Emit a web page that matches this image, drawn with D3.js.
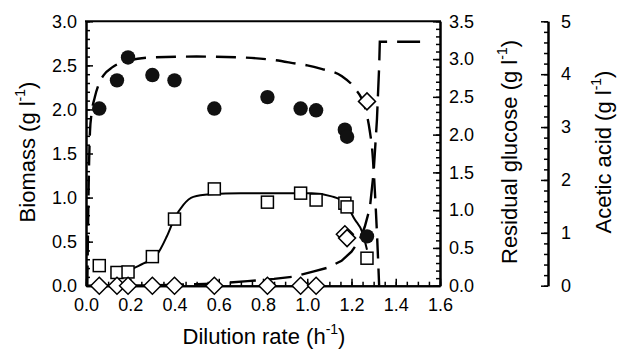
<!DOCTYPE html>
<html><head><meta charset="utf-8">
<script src="https://cdn.jsdelivr.net/npm/d3@7"></script>
<style>body{margin:0;background:#fff}svg{display:block}</style>
</head><body>
<svg id="c" width="618" height="350"></svg>
<script>
// ---- data ----
const dilution = [0.06, 0.14, 0.19, 0.30, 0.40, 0.58, 0.82, 0.97, 1.04, 1.17, 1.18, 1.27];
const biomass = [2.01, 2.33, 2.59, 2.39, 2.33, 2.01, 2.14, 2.01, 1.99, 1.77, 1.69, 0.56];
const aceticAcid = [0.38, 0.25, 0.26, 0.55, 1.26, 1.83, 1.58, 1.75, 1.62, 1.56, 1.49, 0.52];
const residualGlucose = [0, 0, 0, 0, 0, 0, 0, 0, 0, 0.68, 0.63, 2.44];
const biomassModel = [[0.006,0],[0.01,0.8],[0.014,1.4],[0.018,1.75],[0.025,1.95],[0.04,2.14],[0.06,2.3],[0.08,2.39],[0.12,2.48],[0.2,2.56],[0.3,2.59],[0.5,2.6],[0.7,2.59],[0.85,2.56],[0.95,2.52],[1.0,2.5],[1.064,2.46],[1.155,2.38],[1.215,2.24],[1.26,2.03],[1.283,1.75],[1.295,1.5],[1.305,1.1],[1.315,0.6],[1.325,0]];
const glucoseModel = [[0,0],[0.3,0.005],[0.5,0.02],[0.6,0.03],[0.73,0.06],[0.85,0.09],[0.94,0.12],[1.03,0.19],[1.094,0.24],[1.155,0.33],[1.2,0.45],[1.236,0.6],[1.26,0.78],[1.283,1.03],[1.30,1.5],[1.315,2.2],[1.325,2.9],[1.328,3.23],[1.51,3.23]];
const aceticModel = [[0.19,0.27],[0.21,0.32],[0.26,0.42],[0.32,0.58],[0.365,0.93],[0.40,1.27],[0.44,1.53],[0.485,1.68],[0.56,1.73],[0.7,1.75],[0.9,1.75],[1.02,1.75],[1.11,1.69],[1.17,1.57],[1.215,1.25],[1.25,1.0],[1.27,0.68]];
const xTicks = [0,0.2,0.4,0.6,0.8,1.0,1.2,1.4,1.6];
const biomassTicks = [0,0.5,1.0,1.5,2.0,2.5,3.0];
const glucoseTicks = [0,0.5,1.0,1.5,2.0,2.5,3.0,3.5];
const aceticTicks = [0,1,2,3,4,5];

// ---- layout ----
const L = 86, R = 440, T = 21.3, B = 285.7, AX = 548;
const FONT = "'Liberation Sans', Arial, Helvetica, sans-serif";
const svg = d3.select("#c");
const x = d3.scaleLinear([0,1.6],[L,R]);
const yB = d3.scaleLinear([0,3],[B,T]);
const yG = d3.scaleLinear([0,3.5],[B,T]);
const yA = d3.scaleLinear([0,5],[B,T]);
const rng = (a,b,s) => d3.range(Math.round((b-a)/s)+1).map(i => +(a+i*s).toFixed(4));

function styleAxis(g){
  g.selectAll("path.domain").attr("stroke","#000").attr("stroke-width",2);
  g.selectAll(".tick line").attr("stroke","#000").attr("stroke-width",1.5);
  g.selectAll("text").attr("font-family",FONT).attr("font-size",18).attr("fill","#000");
}
// minor ticks first
svg.append("g").attr("transform",`translate(0,${B})`)
  .call(d3.axisBottom(x).tickValues(rng(0,1.6,0.05)).tickSize(-4).tickSizeOuter(0).tickFormat(""))
  .call(styleAxis);
svg.append("g").attr("transform",`translate(${L},0)`)
  .call(d3.axisLeft(yB).tickValues(rng(0,3,0.1)).tickSize(-4).tickSizeOuter(0).tickFormat(""))
  .call(styleAxis);
svg.append("g").attr("transform",`translate(${R},0)`)
  .call(d3.axisRight(yG).tickValues(rng(0,3.5,0.1)).tickSize(-4).tickSizeOuter(0).tickFormat(""))
  .call(styleAxis);
svg.append("g").attr("transform",`translate(${AX},0)`)
  .call(d3.axisRight(yA).tickValues(rng(0,5,0.2)).tickSize(-4).tickSizeOuter(0).tickFormat(""))
  .call(styleAxis);
// major
svg.append("g").attr("transform",`translate(0,${B})`)
  .call(d3.axisBottom(x).tickValues(xTicks).tickSize(-7).tickSizeOuter(0).tickPadding(13).tickFormat(d3.format(".1f")))
  .call(styleAxis);
svg.append("g").attr("transform",`translate(${L},0)`)
  .call(d3.axisLeft(yB).tickValues(biomassTicks).tickSize(-7).tickSizeOuter(0).tickPadding(9).tickFormat(d3.format(".1f")))
  .call(styleAxis);
svg.append("g").attr("transform",`translate(${R},0)`)
  .call(d3.axisRight(yG).tickValues(glucoseTicks).tickSize(-7).tickSizeOuter(0).tickPadding(9).tickFormat(d3.format(".1f")))
  .call(styleAxis);
svg.append("g").attr("transform",`translate(${AX},0)`)
  .call(d3.axisRight(yA).tickValues(aceticTicks).tickSize(-7).tickSizeOuter(0).tickPadding(13).tickFormat(d3.format("d")))
  .call(styleAxis);
// top frame
svg.append("line").attr("x1",L-1).attr("x2",R+1).attr("y1",T).attr("y2",T).attr("stroke","#000").attr("stroke-width",2);

// ---- curves ----
const line = (ys) => d3.line().x(d=>x(d[0])).y(d=>ys(d[1])).curve(d3.curveMonotoneX);
svg.append("path").datum(aceticModel).attr("d",line(yA)).attr("fill","none").attr("stroke","#000").attr("stroke-width",2);
svg.append("path").datum(biomassModel).attr("d",line(yB)).attr("fill","none").attr("stroke","#000").attr("stroke-width",2.4).attr("stroke-dasharray","20,10");
svg.append("path").datum(glucoseModel).attr("d",d3.line().x(d=>x(d[0])).y(d=>yG(d[1])).curve(d3.curveLinear)).attr("fill","none").attr("stroke","#000").attr("stroke-width",2.4).attr("stroke-dasharray","26,10");

// ---- markers ----
const sq = 12, dm = 8.5;
svg.append("g").selectAll("rect").data(dilution.map((d,i)=>[d,aceticAcid[i]])).join("rect")
  .attr("x",d=>x(d[0])-sq/2).attr("y",d=>yA(d[1])-sq/2).attr("width",sq).attr("height",sq)
  .attr("fill","#fff").attr("stroke","#000").attr("stroke-width",1.5);
svg.append("g").selectAll("path").data(dilution.map((d,i)=>[d,residualGlucose[i]])).join("path")
  .attr("d",d=>{const cx=x(d[0]),cy=yG(d[1]);return `M${cx},${cy-dm}L${cx+dm},${cy}L${cx},${cy+dm}L${cx-dm},${cy}Z`;})
  .attr("fill","#fff").attr("stroke","#000").attr("stroke-width",1.5);
svg.append("g").selectAll("circle").data(dilution.map((d,i)=>[d,biomass[i]])).join("circle")
  .attr("cx",d=>x(d[0])).attr("cy",d=>yB(d[1])).attr("r",7.2).attr("fill","#111");

// ---- titles ----
function title(g, main, close){
  g.attr("font-family",FONT).attr("font-size",22).attr("fill","#000");
  g.append("tspan").text(main);
  g.append("tspan").attr("font-size",14).attr("dy","-0.75em").text("-1");
  g.append("tspan").attr("dy","0.48em").text(close);
}
svg.append("text").attr("x",264).attr("y",344).attr("text-anchor","middle").call(g=>title(g,"Dilution rate (h",")"));
svg.append("text").attr("transform",`translate(35,152) rotate(-90)`).attr("text-anchor","middle").call(g=>title(g,"Biomass (g l",")"));
svg.append("text").attr("transform",`translate(517,152) rotate(-90)`).attr("text-anchor","middle").call(g=>title(g,"Residual glucose (g l",")"));
svg.append("text").attr("transform",`translate(611,152) rotate(-90)`).attr("text-anchor","middle").call(g=>title(g,"Acetic acid (g l",")"));
</script>
</body></html>
